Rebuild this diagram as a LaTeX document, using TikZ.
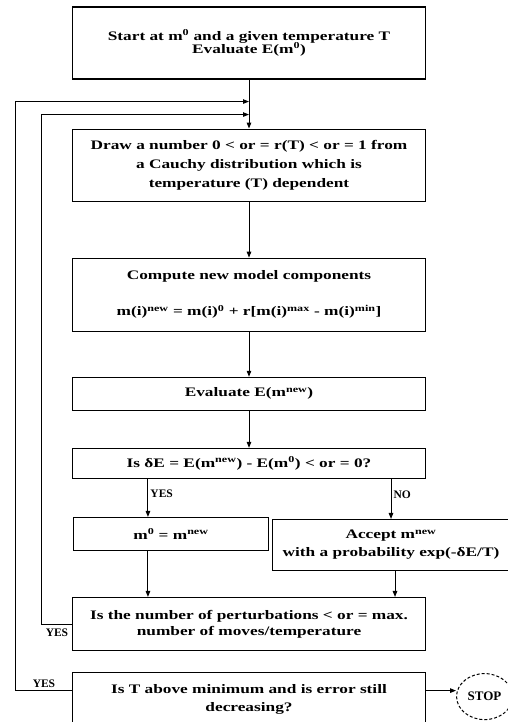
\documentclass[tikz,border=0pt]{standalone}
\usepackage{fontspec}
\setmainfont{Liberation Serif}[FakeStretch=1.33]
\newfontfamily\plainserif{Liberation Serif}
\usetikzlibrary{arrows.meta, positioning, shapes.geometric}

\begin{document}
\begin{tikzpicture}[
    x=1pt, y=1pt,
    every node/.style={font=\fontsize{13}{16}\selectfont\bfseries, align=center},
    flowbox/.style={draw, line width=1.1pt, minimum width=353pt, inner sep=2pt},
    arr/.style={-{Triangle[length=6pt, width=4.5pt]}, line width=1pt},
    lbl/.style={font=\plainserif\fontsize{11.5}{13}\selectfont\bfseries, inner sep=2pt},
    stopnode/.style={ellipse, draw, densely dashed, line width=1pt, minimum width=56pt, minimum height=46pt, inner sep=0pt, font=\plainserif\fontsize{13}{16}\selectfont\bfseries}
]
\useasboundingbox (0,0) rectangle (507,-722);

% Main column
\node[flowbox, minimum height=72pt] (start) at (249,-43) {Start at m\textsuperscript{0} and a given temperature T\\[-3pt]Evaluate E(m\textsuperscript{0})};
\node[flowbox, minimum height=72pt, below=49pt of start] (drawr) {Draw a number 0 < or = r(T) < or = 1 from\\[3pt]a Cauchy distribution which is\\[3pt]temperature (T) dependent};
\node[flowbox, minimum height=73pt, below=56pt of drawr] (compute) {Compute new model components\\[20pt]m(i)\textsuperscript{new} = m(i)\textsuperscript{0} + r[m(i)\textsuperscript{max} - m(i)\textsuperscript{min}]};
\node[flowbox, minimum height=33pt, below=45pt of compute] (evalnew) {Evaluate E(m\textsuperscript{new})};
\node[flowbox, minimum height=30pt, below=37pt of evalnew] (test) {Is δE = E(m\textsuperscript{new}) - E(m\textsuperscript{0}) < or = 0?};

% Branches
\node[flowbox, minimum width=195pt, minimum height=33pt, anchor=north west] (accept0) at ([xshift=1pt, yshift=-38pt]test.south west) {m\textsuperscript{0} = m\textsuperscript{new}};
\node[flowbox, minimum width=237pt, minimum height=51pt, anchor=north west] (accept1) at ([xshift=200pt, yshift=-40pt]test.south west) {Accept m\textsuperscript{new}\\[2pt]with a probability exp(-δE/T)};
\coordinate (yesx) at ([xshift=75pt]accept0.north west);

% Loop tests
\node[flowbox, minimum height=53pt, anchor=north] (perturb) at ([yshift=-118pt]test.south) {Is the number of perturbations < or = max.\\[0pt]number of moves/temperature};
\node[flowbox, minimum height=54pt, below=21pt of perturb] (temp) {Is T above minimum and is error still\\[2pt]decreasing?};
\node[stopnode, right=30pt of temp, yshift=3pt] (stop) {STOP};

% Connections
\draw[arr] (start) -- (drawr);
\draw[arr] (drawr) -- (compute);
\draw[arr] (compute) -- (evalnew);
\draw[arr] (evalnew) -- (test);
\draw[arr] (test.south -| yesx) -- node[lbl, right, pos=0.4]{YES} (yesx);
\draw[arr] (test.south -| accept1.north) -- node[lbl, right, pos=0.4]{NO} (accept1.north);
\draw[arr] (accept0.south -| yesx) -- (perturb.north -| yesx);
\draw[arr] ([xshift=4pt]accept1.south) -- ([xshift=4pt]accept1.south |- perturb.north);
\draw[arr] ([yshift=9pt]temp.east) -- ([yshift=9pt]temp.east -| stop.west);

% Loops back
\draw[arr] (perturb.west) -- node[lbl, below, yshift=-2pt]{YES} ++(-30pt,0) |- ([yshift=-35pt]start.south);
\draw[arr] ([yshift=9pt]temp.west) -- node[lbl, above]{YES} ++(-56pt,0) |- ([yshift=-22pt]start.south);

\end{tikzpicture}
\end{document}
